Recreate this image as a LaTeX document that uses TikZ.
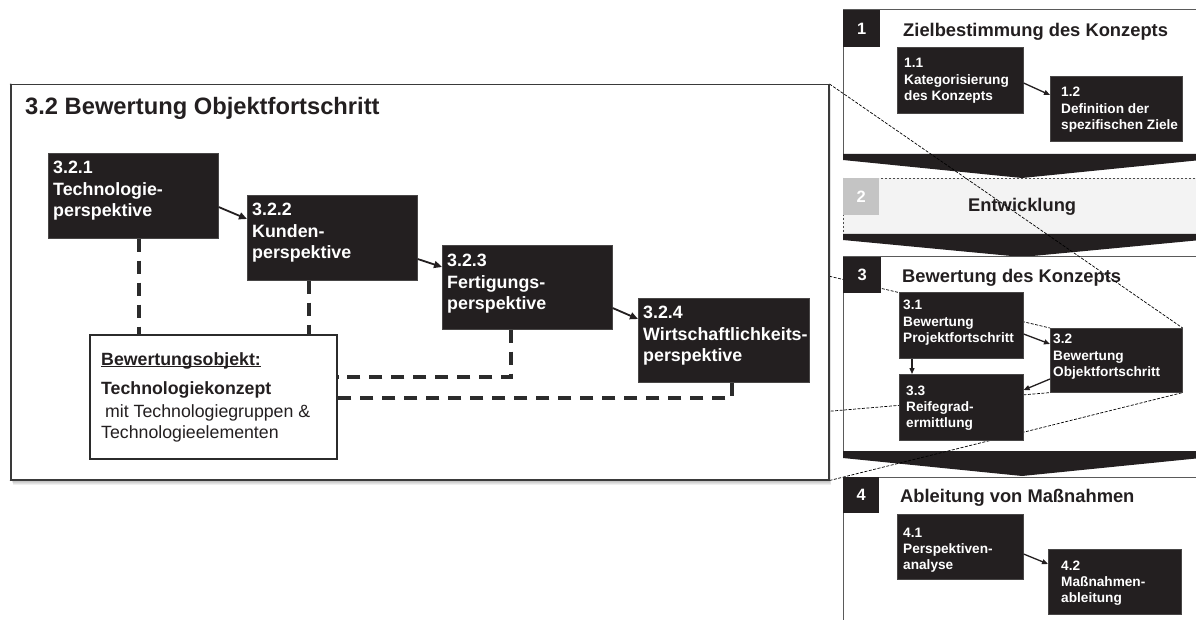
\documentclass[tikz,border=0pt]{standalone}
\usepackage{fontspec}
\setmainfont{Liberation Sans}
\usetikzlibrary{calc,arrows.meta}
\pgfdeclarelayer{back}
\pgfdeclarelayer{mid}
\pgfdeclarelayer{front}
\pgfsetlayers{back,main,mid,front}

\definecolor{boxblack}{HTML}{231F20}
\definecolor{framegray}{HTML}{3A3A3A}
\definecolor{secgray}{HTML}{5A5A5A}
\definecolor{conngray}{HTML}{2B2B2B}
\definecolor{numgray}{HTML}{C4C4C4}
\definecolor{devfill}{HTML}{F3F3F3}

% stacked lines whose baseline is the first line
\newcommand{\rows}[1]{\vtop{\let\\\cr\halign{##\hfil\cr#1\crcr}}}
% underline drawn close to the baseline
\newcommand{\ulbold}[1]{\setbox0\hbox{#1}\rlap{\rule[-2pt]{\wd0}{1.1pt}}\box0}

\tikzset{
  blk/.style={draw=gray!40!boxblack, line width=0.6bp, fill=boxblack, inner sep=0pt, anchor=north west},
  bigtxt/.style={anchor=base west, inner sep=0pt, text=white,
    font=\fontsize{17.9}{21.5}\selectfont\bfseries},
  smalltxt/.style={anchor=base west, inner sep=0pt, text=white,
    font=\fontsize{13.7}{16.5}\selectfont\bfseries},
  sectitle/.style={anchor=base west, inner sep=0pt, text=boxblack,
    font=\fontsize{18.4}{21}\selectfont\bfseries},
  numbox/.style={fill=boxblack, inner sep=0pt, anchor=north west, text=white,
    font=\fontsize{16.5}{18}\selectfont\bfseries},
  secline/.style={draw=secgray, line width=1bp},
  arr/.style={draw=boxblack, line width=1.8bp, -{Triangle[length=8bp,width=7bp]}},
  arrs/.style={draw=boxblack, line width=1.3bp, -{Triangle[length=6bp,width=5bp]}},
  conn/.style={draw=conngray, line width=3.5bp, dash pattern=on 13bp off 9bp},
  zoomline/.style={draw=black, line width=0.7bp, dash pattern=on 3bp off 1.5bp},
}

\begin{document}
\begin{tikzpicture}[x=1bp, y=-1bp]
\useasboundingbox (0,0) rectangle (1196,620);
\clip (0,0) rectangle (1196,620);

% ---------------- process column on the right ----------------
\begin{pgfonlayer}{back}
  \fill[white] (0,0) rectangle (1196,620);
  % phase 1
  \fill[white] (843,10) rectangle (1201,155);
  \draw[secline] (843,155) -- (843,10) -- (1201,10) -- (1201,155);
  \fill[boxblack] (843,154) -- (1201,154) -- (1201,160) -- (1022,178) -- (843,160) -- cycle;
  % phase 2
  \filldraw[fill=devfill, draw=gray!60!black, line width=0.8bp,
    dash pattern=on 2.5bp off 1.5bp] (843,178) rectangle (1201,234);
  \fill[boxblack] (843,234) -- (1201,234) -- (1201,240) -- (1022,257) -- (843,240) -- cycle;
  % phase 3
  \fill[white] (843,257) rectangle (1201,452);
  \draw[secline] (843,452) -- (843,257) -- (1201,257) -- (1201,452);
  \fill[boxblack] (843,451) -- (1201,451) -- (1201,458) -- (1022,476) -- (843,458) -- cycle;
  % phase 4
  \fill[white] (843,477) rectangle (1201,640);
  \draw[secline] (843,640) -- (843,477) -- (1201,477) -- (1201,640);

  \node[sectitle] (t1) at (903,37) {Zielbestimmung des Konzepts};
  \node[sectitle] (t2) at (968,212) {Entwicklung};
  \node[sectitle] (t3) at (902,283) {Bewertung des Konzepts};
  \node[sectitle] (t4) at (900,502) {Ableitung von Maßnahmen};
\end{pgfonlayer}

\begin{pgfonlayer}{mid}
  \node[numbox, minimum width=37bp, minimum height=37bp] (num1) at (843,10) {1};
  \node[numbox, fill=numgray, minimum width=36bp, minimum height=37bp] (num2) at (843,178) {2};
  \node[numbox, minimum width=38bp, minimum height=36bp] (num3) at (843,257) {3};
  \node[numbox, minimum width=36bp, minimum height=36bp] (num4) at (843,477) {4};

  \node[blk, minimum width=126bp, minimum height=66bp] (n11) at (897,47) {};
  \node[blk, minimum width=132bp, minimum height=65bp] (n12) at (1050,76) {};
  \node[blk, minimum width=124bp, minimum height=66bp] (n31) at (899,292) {};
  \node[blk, minimum width=132bp, minimum height=64bp] (n32) at (1050,328) {};
  \node[blk, minimum width=124bp, minimum height=66bp] (n33) at (899,374) {};
  \node[blk, minimum width=126bp, minimum height=65bp] (n41) at (897,514) {};
  \node[blk, minimum width=133bp, minimum height=65bp] (n42) at (1048,549) {};

  \node[smalltxt] (l11) at ($(n11.north west)+(7,21)$) {\rows{1.1\\Kategorisierung\\des Konzepts}};
  \node[smalltxt] (l12) at ($(n12.north west)+(11,21)$) {\rows{1.2\\Definition der\\spezifischen Ziele}};
  \node[smalltxt] (l31) at ($(n31.north west)+(4,18)$) {\rows{3.1\\Bewertung\\Projektfortschritt}};
  \node[smalltxt] (l32) at ($(n32.north west)+(3,16)$) {\rows{3.2\\Bewertung\\Objektfortschritt}};
  \node[smalltxt] (l33) at ($(n33.north west)+(7,21)$) {\rows{3.3\\Reifegrad-\\ermittlung}};
  \node[smalltxt] (l41) at ($(n41.north west)+(6,23)$) {\rows{4.1\\Perspektiven-\\analyse}};
  \node[smalltxt] (l42) at ($(n42.north west)+(13,21)$) {\rows{4.2\\Maßnahmen-\\ableitung}};

  \draw[arrs] ($(n11.north east)+(0,36)$) -- ($(n12.north west)+(0,19)$);
  \draw[arrs] ($(n31.north east)+(0,42)$) -- ($(n32.north west)+(0,16)$);
  \draw[arrs] ($(n31.south west)+(13,0)$) -- ($(n33.north west)+(13,0)$);
  \draw[arrs] ($(n32.north west)+(0,51)$) -- ($(n33.north east)+(0,16)$);
  \draw[arrs] ($(n41.north east)+(0,40)$) -- ($(n42.north west)+(0,15)$);
\end{pgfonlayer}

% ---------------- enlarged view of step 3.2 ----------------
\begin{pgfonlayer}{front}
  \foreach \k in {1,...,6} {
    \fill[black, opacity=0.06] ({10+0.5*\k},{84+\k}) rectangle ({828+0.5*\k},{479+\k});
  }
  \node[draw=framegray, line width=1.5bp, fill=white, inner sep=0pt, anchor=north west,
    minimum width=818bp, minimum height=395bp] (big) at (10,84) {};
  \node[anchor=base west, inner sep=0pt, text=boxblack,
    font=\fontsize{23.8}{28}\selectfont\bfseries] (title)
    at ($(big.north west)+(15,31)$) {3.2 Bewertung Objektfortschritt};

  \node[blk, minimum width=170bp, minimum height=85bp] (b321) at (48,153) {};
  \node[blk, minimum width=170bp, minimum height=85bp] (b322) at (247,195) {};
  \node[blk, minimum width=170bp, minimum height=84bp] (b323) at (442,245) {};
  \node[blk, minimum width=171bp, minimum height=84bp] (b324) at (638,298) {};

  \node[bigtxt] (l321) at ($(b321.north west)+(5,21)$) {\rows{3.2.1\\Technologie-\\perspektive}};
  \node[bigtxt] (l322) at ($(b322.north west)+(5,21)$) {\rows{3.2.2\\Kunden-\\perspektive}};
  \node[bigtxt] (l323) at ($(b323.north west)+(5,22)$) {\rows{3.2.3\\Fertigungs-\\perspektive}};
  \node[bigtxt] (l324) at ($(b324.north west)+(5,21)$) {\rows{3.2.4\\Wirtschaftlichkeits-\\perspektive}};

  \node[draw=conngray, line width=1.8bp, fill=white, inner sep=0pt, anchor=north west,
    minimum width=247bp, minimum height=124bp] (bobj) at (89,334) {};
  \node[anchor=base west, inner sep=0pt, text=boxblack,
    font=\fontsize{17.8}{20.5}\selectfont] (lobj) at ($(bobj.north west)+(12,31)$)
    {\rows{\bfseries\ulbold{Bewertungsobjekt:}\cr\noalign{\vskip 9.5pt}
      \bfseries Technologiekonzept\cr\noalign{\vskip 2.5pt}
      \kern4pt mit Technologiegruppen \&\cr
      Technologieelementen}};

  \draw[arr] ($(b321.north east)+(0,54)$) -- ($(b322.north west)+(0,24)$);
  \draw[arr] ($(b322.north east)+(0,64)$) -- ($(b323.north west)+(0,22)$);
  \draw[arr] ($(b323.north east)+(0,63)$) -- ($(b324.north west)+(0,21)$);

  \coordinate (d1) at ($(b321.south west)+(91,0)$);
  \coordinate (d2) at ($(b322.south west)+(62,0)$);
  \coordinate (d3) at ($(b323.south west)+(69,0)$);
  \coordinate (d4) at ($(b324.south west)+(94,0)$);
  \coordinate (e3) at ($(bobj.north east)+(0,43)$);
  \coordinate (e4) at ($(bobj.north east)+(0,64)$);
  \draw[conn] (d1) -- (d1 |- bobj.north);
  \draw[conn] (d2) -- (d2 |- bobj.north);
  \draw[conn] (d3) |- (e3);
  \draw[conn] (d4) |- (e4);
\end{pgfonlayer}

% ---------------- zoom lines between 3.2 and its enlarged view ----------------
\draw[zoomline] (big.north east) -- (n32.north east);
\draw[zoomline] (big.south east) -- (n32.south east);
\draw[zoomline] (big.north west) -- (n32.north west);
\draw[zoomline] (big.south west) -- (n32.south west);
\end{tikzpicture}
\end{document}
